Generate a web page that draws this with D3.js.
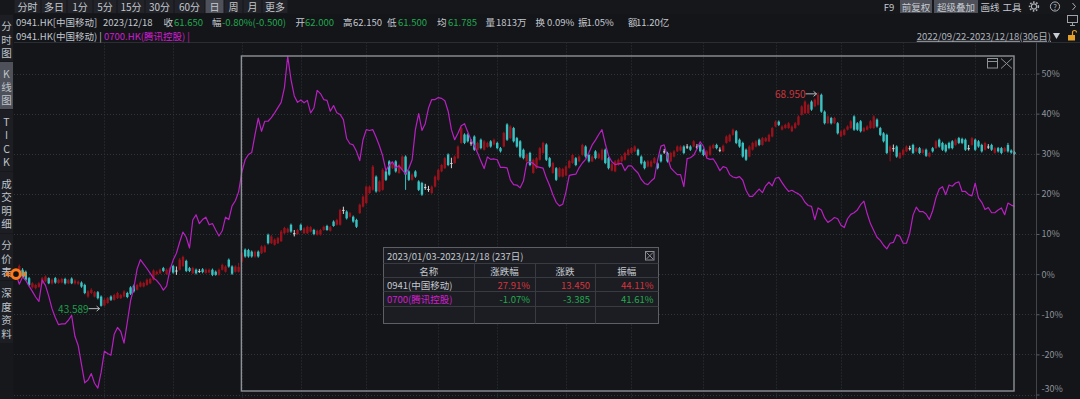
<!DOCTYPE html>
<html><head><meta charset="utf-8">
<script src="https://cdn.jsdelivr.net/npm/d3@7/dist/d3.min.js"></script>
<style>
html,body{margin:0;padding:0;background:#131519;overflow:hidden;}
svg{display:block;}
</style></head>
<body>
<svg id="chart" width="1080" height="399"></svg>
<script>
// ---------------- DATA ----------------
const periodTabs = ['分时','多日','1分','5分','15分','30分','60分','日','周','月','更多'];
const activePeriod = '日';
const toolTabs = ['F9','前复权','超级叠加','画线','工具'];
const activeTools = ['前复权','超级叠加'];
const sideTabs = [['分','时','图'],['K','线','图'],['T','I','C','K'],['成','交','明','细'],['分','价','表'],['深','度','资','料']];
const activeSide = 1;

const quoteItems = [
  ['0941.HK[中国移动]','n'],['2023/12/18','n'],['收','n'],['61.650','g'],['幅','n'],['-0.80%(-0.500)','g'],
  ['开','n'],['62.000','g'],['高','n'],['62.150','n'],['低','n'],['61.500','g'],['均','n'],['61.785','g'],
  ['量','n'],['1813万','n'],['换','n'],['0.09%','n'],['振','n'],['1.05%','n'],['额','n'],['11.20亿','n']
];
const seriesNames = ['0941.HK(中国移动)','0700.HK(腾讯控股)'];
const rangeText = '2022/09/22-2023/12/18(306日)';

const yTicks = [-30,-20,-10,0,10,20,30,40,50];
// bar index of first trading day of each month (Nov 2022 .. Dec 2023)
const monthStartBars = [27,48,69,87,107,129,147,168,188,210,232,252,271,293];
// selected interval (2023/01/03 - 2023/12/18)
const selStartBar = 69, selEndBar = 305;
const extremeLowText = '43.589', extremeHighText = '68.950';

// 0941.HK candles, % change vs first close
const open941 = [
-0.3,0.0,1.1,0.6,-1.0,-3.3,-3.5,-3.2,-2.3,-1.8,
-1.0,-2.3,-1.0,-2.2,-2.1,-1.2,-2.3,-1.1,-2.3,-2.4,
-2.1,-2.7,-5.6,-4.7,-5.6,-4.5,-5.6,-7.8,-7.2,-5.6,
-6.4,-6.0,-6.0,-5.6,-4.7,-3.3,-2.9,-3.9,-3.1,-3.1,
-2.7,-2.3,-1.4,0.0,0.2,1.5,0.0,0.6,2.0,0.9,
1.1,2.0,3.3,1.5,0.2,1.1,0.8,1.2,0.3,0.4,
1.1,0.6,-0.2,1.1,0.6,3.6,1.9,0.6,0.6,3.1,
6.1,6.0,5.6,4.4,5.6,5.2,5.5,9.8,7.7,7.3,
7.7,8.2,10.2,10.4,12.3,10.2,10.0,12.3,10.2,10.2,
10.6,11.0,9.8,9.8,11.0,12.0,10.8,13.1,12.3,12.3,
16.0,15.6,14.3,14.3,13.5,15.2,16.8,17.7,20.2,21.0,
24.3,20.6,21.0,25.6,28.1,26.4,28.1,25.2,26.0,29.3,
25.6,23.5,25.6,23.1,22.7,21.7,21.2,20.2,21.8,23.5,
25.6,26.4,29.8,27.7,27.7,28.9,32.7,34.8,34.8,32.8,
34.3,31.0,33.5,31.0,31.7,33.1,32.3,32.7,31.4,31.8,
37.3,33.9,36.4,33.9,33.1,31.0,28.1,30.2,25.2,26.4,
28.5,30.2,32.3,28.9,25.2,26.4,24.3,24.3,24.6,26.5,
27.7,28.9,28.1,29.7,31.8,29.7,28.1,30.6,28.9,28.5,
31.0,28.9,25.8,25.6,27.2,28.1,28.5,29.7,30.2,30.6,
31.0,29.3,28.0,26.8,26.8,27.7,27.6,29.7,30.6,30.2,
28.1,29.3,30.6,30.8,31.8,31.8,31.8,31.8,31.8,32.2,
31.0,29.3,29.7,31.4,32.2,31.0,30.6,32.7,33.1,34.7,
35.6,33.5,32.7,31.0,29.3,31.0,31.8,33.5,32.2,33.1,
33.1,34.3,36.8,38.0,36.0,36.4,36.4,35.6,36.4,37.2,
39.7,40.1,40.1,43.0,41.8,42.2,44.7,40.5,37.6,38.9,
37.6,37.6,34.3,34.7,36.0,36.4,39.3,37.6,38.1,35.6,
36.0,36.4,36.4,38.5,36.4,35.1,34.7,30.6,31.4,31.8,
28.9,29.7,30.6,31.4,32.2,30.6,31.4,30.2,31.0,29.3,
31.4,31.4,33.5,32.7,32.2,32.7,33.1,32.2,33.9,33.7,
33.5,31.4,32.2,33.5,33.1,32.2,31.0,31.8,32.2,30.2,
31.4,31.4,30.6,32.2,30.8,30.4];
const close941 = [
0.0,2.0,-0.6,-1.4,-2.7,-2.3,-2.7,-2.3,-1.0,-0.6,
-2.3,-1.4,-2.1,-1.4,-1.2,-2.3,-1.5,-2.3,-1.6,-1.9,
-3.1,-4.7,-4.3,-3.9,-4.5,-6.0,-7.9,-6.4,-6.0,-6.4,
-5.2,-4.7,-5.2,-4.3,-5.7,-4.9,-4.3,-2.7,-2.1,-2.2,
-1.4,-1.2,0.9,0.6,1.1,0.8,1.1,1.5,0.4,0.9,
3.6,4.3,0.8,0.8,1.5,0.2,0.8,0.5,1.1,1.1,
-0.2,-0.2,1.1,2.3,1.9,1.9,0.1,1.9,1.8,5.2,
4.4,4.4,4.4,5.6,4.4,6.9,6.9,7.7,9.4,8.6,
9.0,10.6,11.5,11.3,10.6,10.2,11.0,11.0,11.4,11.8,
11.7,10.0,10.8,11.0,11.8,11.0,11.7,12.0,13.5,16.0,
16.0,13.9,15.2,13.1,11.8,17.3,19.3,21.8,21.8,26.8,
20.6,23.1,26.0,23.5,24.8,27.7,25.6,27.2,29.3,24.8,
23.5,24.8,24.3,21.0,19.8,21.7,21.2,21.8,24.3,26.0,
27.2,28.9,27.2,27.7,29.3,31.8,36.4,32.7,33.1,32.8,
31.0,32.7,31.4,33.1,32.7,31.8,33.5,31.4,30.6,35.2,
33.5,36.8,33.1,31.8,29.3,28.9,29.8,27.2,28.5,28.9,
31.4,32.7,28.5,26.8,27.7,23.5,26.4,26.2,26.8,28.2,
29.7,27.2,29.3,32.2,29.3,28.1,29.3,28.9,30.0,31.0,
27.7,26.4,27.4,28.1,28.5,29.3,30.2,31.0,31.4,31.8,
29.7,27.6,26.4,28.1,28.1,28.9,26.4,28.1,30.6,28.1,
30.2,30.6,31.8,31.8,30.2,31.8,31.0,33.1,31.8,30.6,
29.7,30.6,31.8,32.2,31.4,31.0,32.0,34.3,34.7,36.0,
32.7,31.8,29.3,28.5,31.8,32.7,33.1,32.2,33.9,33.9,
34.7,36.4,38.0,37.2,36.8,37.2,37.6,36.8,37.6,39.3,
41.8,43.0,42.2,41.0,43.5,44.7,40.5,37.6,39.3,37.6,
38.9,35.1,35.6,36.0,36.8,38.1,36.0,36.0,35.6,36.4,
36.8,38.1,39.3,36.8,34.7,33.1,30.2,31.8,31.4,29.3,
30.2,31.0,31.8,31.4,30.2,31.4,30.2,31.0,29.5,30.2,
30.6,33.1,31.8,31.0,30.6,31.4,31.4,33.5,32.7,32.7,
31.0,31.4,33.9,31.0,31.8,30.6,32.7,31.8,31.0,31.4,
30.6,30.2,31.4,30.6,30.3,29.9];
const high941 = [
0.5,2.4,1.5,0.9,-0.7,-2.0,-2.4,-2.0,-0.7,-0.3,
-0.8,-1.1,-0.7,-1.1,-0.9,-0.9,-1.2,-0.8,-1.3,-1.6,
-1.8,-2.4,-4.0,-3.5,-4.2,-4.2,-5.3,-6.0,-5.7,-5.3,
-4.9,-4.4,-4.9,-4.0,-4.4,-3.0,-2.6,-2.4,-1.8,-1.9,
-1.1,-0.9,1.2,0.9,1.4,1.8,1.4,1.8,2.3,1.9,
4.0,4.6,3.6,1.8,1.8,1.4,1.3,1.5,1.4,1.4,
1.4,0.9,1.4,2.6,2.2,3.9,2.2,2.2,2.8,5.6,
6.4,6.3,5.9,5.9,5.9,7.2,7.3,10.1,9.8,8.9,
9.3,11.0,11.8,11.6,12.6,11.0,11.3,12.6,11.7,12.1,
12.0,11.3,11.1,11.3,12.1,12.3,12.0,13.4,13.8,16.3,
16.8,15.9,15.5,14.6,13.8,17.6,19.6,22.1,22.1,27.2,
24.6,23.4,26.4,25.9,28.4,28.0,28.4,27.5,29.6,29.6,
25.9,25.1,25.9,23.4,23.0,22.5,22.0,22.1,24.6,26.3,
27.5,29.2,30.1,29.0,29.6,32.1,36.7,35.1,35.1,33.6,
34.6,33.0,33.8,33.4,33.0,33.4,33.8,33.0,31.7,35.5,
37.6,37.1,36.7,34.2,33.4,31.3,30.1,30.5,28.8,29.2,
31.7,33.0,32.6,29.2,28.0,26.7,26.7,26.5,27.1,28.5,
30.0,29.2,29.6,32.5,32.1,30.0,29.6,30.9,30.3,31.3,
31.3,29.2,27.7,28.4,28.8,29.6,30.5,31.3,31.7,32.1,
31.3,29.6,28.3,28.4,28.4,29.2,27.9,30.0,31.2,30.5,
30.5,30.9,32.1,32.1,32.1,32.4,32.1,33.4,32.4,32.5,
31.3,30.9,32.1,32.5,32.5,31.6,32.3,34.6,35.0,36.3,
35.9,33.8,33.0,31.3,32.1,33.0,33.4,33.8,34.2,34.2,
35.0,36.7,38.3,38.3,37.1,37.5,37.9,37.1,37.9,39.6,
42.1,43.3,42.5,43.3,43.8,45.3,45.0,40.8,39.6,39.2,
39.2,37.9,35.9,36.3,37.1,38.4,39.6,37.9,38.4,36.7,
37.1,38.4,39.6,38.8,36.7,35.4,35.0,32.1,32.3,32.1,
30.5,31.3,32.1,32.0,32.5,31.7,31.7,31.3,31.3,30.5,
31.7,33.4,33.8,33.0,32.5,33.0,33.4,33.8,34.2,34.0,
33.8,32.2,34.2,33.8,33.4,32.5,33.0,32.4,32.5,31.7,
31.7,31.7,31.7,32.7,31.1,30.7];
const low941 = [
-0.6,-0.2,-0.8,-1.7,-3.0,-3.6,-3.8,-3.4,-2.5,-2.0,
-2.5,-2.6,-2.4,-2.4,-2.3,-2.6,-2.5,-2.5,-2.6,-2.7,
-3.4,-5.0,-5.9,-5.0,-5.8,-6.3,-8.1,-8.0,-7.4,-6.7,
-6.6,-6.2,-6.2,-5.8,-6.0,-5.2,-4.6,-4.1,-3.3,-3.3,
-2.9,-2.5,-1.6,-0.3,0.0,0.5,-0.2,0.4,0.1,-0.2,
0.9,1.8,0.5,0.5,0.0,-0.1,0.3,0.2,0.1,0.2,
-0.5,-0.4,-0.4,0.9,0.4,1.6,-0.2,0.4,0.4,2.9,
4.1,4.1,4.1,4.1,4.1,5.0,5.3,7.4,7.5,7.1,
7.5,8.0,10.0,10.2,10.3,9.4,9.8,10.8,10.0,10.0,
10.4,9.7,9.6,9.6,10.8,10.8,10.6,11.8,12.1,12.1,
15.0,13.6,14.1,12.8,11.5,15.0,16.6,17.5,20.0,20.8,
20.3,20.4,20.8,23.2,24.5,26.2,25.3,25.0,25.8,21.0,
23.2,23.3,24.0,20.7,19.5,21.0,20.5,20.0,21.6,23.3,
25.4,26.2,26.9,26.4,27.5,28.7,32.5,32.4,32.8,32.0,
30.7,30.8,31.1,30.8,31.5,31.5,32.1,31.1,30.3,31.6,
33.2,33.7,32.8,31.5,29.0,28.6,27.9,26.9,25.0,26.2,
28.3,30.0,28.2,26.5,25.0,23.2,24.1,24.1,24.4,26.3,
27.5,26.9,27.9,29.5,29.0,27.8,27.9,28.6,28.7,28.3,
27.4,26.1,25.6,25.4,27.0,27.9,28.3,29.5,30.0,30.4,
29.4,27.3,26.1,26.6,26.6,27.5,26.1,27.8,30.0,27.8,
27.9,29.1,30.4,30.6,29.9,31.2,30.7,31.6,31.2,30.3,
29.4,29.1,29.5,31.2,31.1,30.4,30.4,32.5,32.9,34.5,
32.4,31.5,29.0,28.2,29.1,30.8,31.6,31.9,32.0,32.9,
32.9,34.1,36.6,36.9,35.8,36.2,36.2,35.4,36.2,37.0,
39.5,39.9,39.9,40.7,41.6,42.0,40.2,37.3,37.4,37.3,
37.4,34.8,34.1,34.5,35.8,36.2,35.7,35.7,35.3,35.4,
35.8,36.2,36.2,36.5,34.4,32.8,29.9,28.1,30.5,29.0,
28.7,29.5,30.4,30.8,29.9,30.4,29.9,30.0,29.2,29.1,
30.3,31.2,31.5,30.7,30.3,31.1,31.1,32.0,32.4,32.4,
30.7,30.8,32.0,30.7,31.5,30.3,30.8,31.2,30.7,30.0,
30.3,29.9,30.4,30.3,30.0,29.7];
// 0700.HK, % change vs first close
const pct700 = [
0,-2.5,-0.7,-1.6,-3.0,-4.3,-5.7,-6.8,-1.5,-2.8,
-5.5,-8.6,-10.8,-12.6,-12.4,-12.4,-11.5,-10.3,-15.5,-17.8,
-22.5,-27.1,-26.4,-24.8,-27.2,-28.4,-24.5,-19.2,-19.8,-20.2,
-15.0,-13.3,-14.3,-17.2,-12.0,-6.6,-3.4,1.3,3.6,2.5,
1.4,0.2,-1.0,-1.6,-2.6,-4.0,-3.0,1.0,3.5,5.2,
8.0,10.5,9.2,6.5,13.5,14.8,12.6,13.6,14.2,12.3,
12.6,11.0,9.5,10.8,14.2,13.6,17.0,18.3,20.5,25.5,
28.5,29.8,30.3,34.7,38.9,35.6,38.1,38.1,39.0,40.2,
41.5,42.8,46.5,54.3,48.5,44.4,42.8,43.4,42.7,43.3,
40.2,41.4,45.8,45.0,43.5,43.3,40.6,42.0,40.2,39.8,
38.5,33.8,32.5,32.2,30.6,28.3,33.5,36.0,35.8,36.0,
34.1,32.0,29.5,25.8,27.2,28.0,26.5,27.0,26.0,25.0,
26.4,28.5,36.0,40.0,35.8,37.5,41.4,43.5,43.5,44.0,
43.8,43.2,40.6,36.0,33.5,35.1,37.0,37.5,35.4,33.4,
32.0,30.2,28.2,26.3,29.2,28.6,28.7,28.5,26.6,26.6,
26.5,23.5,22.3,22.2,21.5,23.2,27.7,28.0,27.6,26.8,
26.6,26.4,24.0,22.1,19.8,17.9,17.0,17.4,20.5,24.6,
24.8,24.9,26.5,27.7,28.6,30.3,32.2,33.4,34.8,36.0,
32.5,29.5,28.0,27.3,27.5,27.6,25.8,27.0,27.0,26.0,
25.2,23.6,22.6,22.3,23.2,23.9,28.5,31.9,32.2,29.2,
26.5,25.6,24.8,24.8,21.8,28.8,29.0,29.6,31.2,33.0,
31.8,28.9,28.6,28.7,27.4,25.8,26.8,26.5,24.8,24.2,
24.0,24.3,23.4,20.9,19.4,19.4,20.3,21.2,20.3,22.0,
22.9,22.0,23.9,24.1,22.8,21.6,20.6,20.9,20.4,20.0,
19.3,17.9,17.1,16.9,13.6,16.5,16.0,14.0,12.9,13.4,
14.1,13.8,12.2,11.6,13.8,14.9,15.3,16.0,17.3,18.2,
15.1,12.6,10.9,9.2,8.4,7.2,6.3,7.7,7.9,9.8,
9.4,7.7,7.7,10.2,14.7,16.7,15.6,15.6,15.0,13.6,
15.8,19.0,21.2,21.8,19.8,22.2,21.9,22.7,23.0,20.6,
20.6,19.8,19.5,22.7,19.0,17.9,16.1,16.6,15.3,15.3,
16.0,16.5,14.8,17.7,17.2,16.9];

const tableTitle = '2023/01/03-2023/12/18 (237日)';
const tableHeaders = ['名称','涨跌幅','涨跌','振幅'];
const tableRows = [
  ['0941(中国移动)','27.91%','13.450','44.11%'],
  ['0700(腾讯控股)','-1.07%','-3.385','41.61%']
];

// ---------------- DRAWING ----------------
const FONT = '"Noto Sans CJK SC","Noto Sans",sans-serif';
const C = {
  bg:'#131519', grid:'#30343b', txt:'#c4c8cf', dim:'#8e929a', green:'#22a94f', red:'#d7333d',
  up:'#96121c', down:'#3ac2c2', flat:'#d8d8d8', mag:'#b91fc2', magTxt:'#d21ed2', box:'#8e9196',
  tab:'#212328', tabOn:'#4e5159', side:'#1c1e23'
};
const TF = 10;   // tab font size
const HF = 9.5;  // info rows font size
const svg = d3.select('#chart').attr('font-family', FONT);
svg.append('rect').attr('width',1080).attr('height',399).attr('fill',C.bg);

const x = d3.scaleLinear().domain([0, close941.length-1]).range([16, 1014.5]);
const y = d3.scaleLinear().domain([-30, 50]).range([394.5, 73.5]);
const PL = 14, PR = 1036.5, PT = 42.5, PB = 399;

// grid
const g = svg.append('g');
g.selectAll('line.h').data(yTicks).join('line')
  .attr('x1',PL).attr('x2',PR).attr('y1',d=>Math.round(y(d))+0.5).attr('y2',d=>Math.round(y(d))+0.5)
  .attr('stroke',C.grid).attr('stroke-dasharray','1,2');
g.selectAll('line.v').data(monthStartBars).join('line')
  .attr('x1',d=>Math.round(x(d))+0.5).attr('x2',d=>Math.round(x(d))+0.5).attr('y1',PT).attr('y2',PB)
  .attr('stroke',C.grid).attr('stroke-dasharray','1,2');
g.append('line').attr('x1',PL).attr('x2',1080).attr('y1',PT).attr('y2',PT).attr('stroke','#2a2d33');
g.append('line').attr('x1',PR).attr('x2',PR).attr('y1',PT).attr('y2',PB).attr('stroke','#40444b');

// candles
const idx = d3.range(close941.length);
const col = i => close941[i] > open941[i] ? C.up : (close941[i] < open941[i] ? C.down : C.flat);
const cg = svg.append('g');
cg.selectAll('line').data(idx).join('line')
  .attr('x1',i=>x(i)).attr('x2',i=>x(i)).attr('y1',i=>y(high941[i])).attr('y2',i=>y(low941[i]))
  .attr('stroke',col).attr('stroke-width',1);
cg.selectAll('rect').data(idx).join('rect')
  .attr('x',i=>x(i)-1.2).attr('width',2.4)
  .attr('y',i=>y(Math.max(open941[i],close941[i])))
  .attr('height',i=>Math.max(1, Math.abs(y(open941[i])-y(close941[i]))))
  .attr('fill',col);

// 0700 line
svg.append('path').datum(pct700)
  .attr('d', d3.line().x((d,i)=>x(i)).y(d=>y(d)))
  .attr('fill','none').attr('stroke',C.mag).attr('stroke-width',1.2).attr('stroke-linejoin','round');

// selection box
const bx0 = x(selStartBar)-0.5, bx1 = x(selEndBar)-0.5;
svg.append('rect').attr('x',bx0).attr('y',56).attr('width',bx1-bx0).attr('height',335)
  .attr('fill','none').attr('stroke',C.box).attr('stroke-width',1.4);
const ic = svg.append('g').attr('stroke',C.box).attr('fill','none').attr('stroke-width',1);
ic.append('rect').attr('x',bx1-26.5).attr('y',58.5).attr('width',10).attr('height',9.5);
ic.append('line').attr('x1',bx1-26.5).attr('x2',bx1-16.5).attr('y1',61.5).attr('y2',61.5);
ic.append('path').attr('d',`M${bx1-13},58.5L${bx1-2},68.5M${bx1-2},58.5L${bx1-13},68.5`);

// extreme labels
const iLo = d3.minIndex(low941), iHi = d3.maxIndex(high941);
function extreme(i, v, txt, color, dy){
  const xe = x(i)-1.5, yy = y(v)+dy;
  svg.append('path').attr('d',`M${xe-11},${yy}L${xe},${yy}M${xe-3},${yy-2.5}L${xe},${yy}L${xe-3},${yy+2.5}`)
    .attr('stroke','#b5b8bd').attr('fill','none').attr('stroke-width',1);
  svg.append('text').attr('x',xe-11).attr('y',yy).attr('text-anchor','end').attr('dominant-baseline','central')
    .attr('font-size',10).attr('fill',color).text(txt);
}
extreme(iLo, low941[iLo], extremeLowText, '#1f9d49', 2);
extreme(iHi, high941[iHi], extremeHighText, '#c8353d', 1.5);

// right axis
const ax = svg.append('g').attr('transform',`translate(${PR},0)`)
  .call(d3.axisRight(y).tickValues(yTicks).tickFormat(d=>d+'%').tickSize(3).tickPadding(2));
ax.select('.domain').remove();
ax.selectAll('.tick line').attr('stroke','#5a5e66');
ax.selectAll('.tick text').attr('fill',C.dim).attr('font-size',9).attr('font-family',FONT)
  .attr('dy', d => d === yTicks[0] ? '-0.05em' : '0.32em');
ax.selectAll('.tick').filter(d=>d===yTicks[0]).select('text').attr('y',-3);

// table
const T = {x0:383.5, x1:658.5, y0:247.5, y1:323.5, cols:[383.5,474,535,595,658.5], rows:[263,277,291,306]};
const tg = svg.append('g');
tg.append('rect').attr('x',T.x0).attr('y',T.y0).attr('width',T.x1-T.x0).attr('height',T.y1-T.y0)
  .attr('fill','#1b1d22').attr('stroke','#5c5f65').attr('stroke-width',1);
T.rows.forEach(r=>tg.append('line').attr('x1',T.x0).attr('x2',T.x1).attr('y1',r+0.5).attr('y2',r+0.5).attr('stroke','#383b41'));
T.cols.slice(1,-1).forEach(c=>tg.append('line').attr('x1',c+0.5).attr('x2',c+0.5).attr('y1',263).attr('y2',T.y1).attr('stroke','#383b41'));
tg.append('text').attr('x',387).attr('y',255.5).attr('dominant-baseline','central').attr('font-size',9.5).attr('fill',C.txt).text(tableTitle);
const cb = tg.append('g').attr('stroke','#8a8d93').attr('fill','none');
cb.append('rect').attr('x',645.5).attr('y',251.5).attr('width',8.5).attr('height',8.5);
cb.append('path').attr('d','M646.5,252.5L653,259M653,252.5L646.5,259');
tableHeaders.forEach((h,i)=>tg.append('text').attr('x',(T.cols[i]+T.cols[i+1])/2).attr('y',270.5)
  .attr('text-anchor','middle').attr('dominant-baseline','central').attr('font-size',9.5).attr('fill',C.txt).text(h));
tableRows.forEach((row,ri)=>{
  const yy = [284.5,299][ri];
  row.forEach((v,ci)=>{
    let fill;
    if (ci===0) fill = ri===0 ? C.txt : C.magTxt;
    else fill = v.startsWith('-') ? C.green : (ri===0 ? C.red : C.green);
    const t = tg.append('text').attr('y',yy).attr('dominant-baseline','central').attr('font-size',9.5).attr('fill',fill).text(v);
    if (ci===0) t.attr('x',387); else t.attr('x',T.cols[ci+1]-5).attr('text-anchor','end');
  });
});

// ---------------- HEADER ----------------
const hd = svg.append('g');
hd.append('rect').attr('x',0).attr('y',0).attr('width',1080).attr('height',14).attr('fill','#15171b');
const tabEdges = [14,41,67,93,117,145,174,205,224,243,262,288];
periodTabs.forEach((t,i)=>{
  const a = tabEdges[i]+0.5, b = tabEdges[i+1]-0.5;
  hd.append('rect').attr('x',a).attr('y',0).attr('width',b-a).attr('height',13)
    .attr('fill', t===activePeriod ? C.tabOn : C.tab);
  hd.append('text').attr('x',(a+b)/2).attr('y',6.8).attr('text-anchor','middle').attr('dominant-baseline','central')
    .attr('font-size',TF).attr('fill',C.txt).text(t);
});
const toolPos = [[880,898],[900,932],[934,978],[981,999],[1003,1021]];
toolTabs.forEach((t,i)=>{
  const [a,b] = toolPos[i];
  if (activeTools.includes(t)) hd.append('rect').attr('x',a).attr('y',0).attr('width',b-a).attr('height',13).attr('fill',C.tabOn);
  hd.append('text').attr('x',(a+b)/2).attr('y',6.8).attr('text-anchor','middle').attr('dominant-baseline','central')
    .attr('font-size',9.5).attr('fill',C.txt).text(t);
});
// gear, help, arrow
hd.append('circle').attr('cx',1034).attr('cy',6.5).attr('r',2.6).attr('fill','none').attr('stroke','#aeb2b9').attr('stroke-width',1.1);
hd.append('circle').attr('cx',1034).attr('cy',6.5).attr('r',4.4).attr('fill','none').attr('stroke','#aeb2b9').attr('stroke-width',1.6).attr('stroke-dasharray','1.6,1.6');
hd.append('circle').attr('cx',1055).attr('cy',6.5).attr('r',4.6).attr('fill','none').attr('stroke','#aeb2b9').attr('stroke-width',1);
hd.append('text').attr('x',1055).attr('y',6.8).attr('text-anchor','middle').attr('dominant-baseline','central').attr('font-size',7.5).attr('fill','#aeb2b9').text('?');
hd.append('path').attr('d','M1072.5,3L1075.5,6.5L1072.5,10').attr('fill','none').attr('stroke','#aeb2b9').attr('stroke-width',1);

// quote row
const quoteX = [16,103,163.5,174,212,222,295.5,305,343,353,387,398,437,448,485.5,496,535.5,547,578,586.5,628,636];
quoteItems.forEach(([t,k],i)=>{
  hd.append('text').attr('x',quoteX[i]).attr('y',21.8).attr('dominant-baseline','central').attr('font-size',HF)
    .attr('fill', k==='g' ? C.green : C.txt).text(t);
});
// monitor icon
hd.append('rect').attr('x',1067.5).attr('y',15.5).attr('width',10).attr('height',7).attr('fill','none').attr('stroke','#9ea2a9');
hd.append('path').attr('d','M1070,25.5L1075,25.5M1072.5,22.5L1072.5,25.5').attr('stroke','#9ea2a9');

// series row (one text, tspans flow without overlap)
const sr = hd.append('text').attr('x',16).attr('y',35.8).attr('dominant-baseline','central').attr('font-size',HF);
sr.append('tspan').attr('fill',C.txt).text(seriesNames[0] + ' | ');
sr.append('tspan').attr('fill',C.magTxt).text(seriesNames[1] + ' |');
hd.append('text').attr('x',1051).attr('y',35.8).attr('text-anchor','end').attr('dominant-baseline','central').attr('font-size',9.5)
  .attr('fill','#b0b4bb').attr('text-decoration','underline').text(rangeText);
hd.append('path').attr('d','M1053,33L1060,33L1056.5,39Z').attr('fill','#c8ccd2');
hd.append('rect').attr('x',1068).attr('y',35).attr('width',7).attr('height',5.5).attr('fill','#e3a12a');
hd.append('path').attr('d','M1072.5,35L1072.5,32.5A2,2 0 0 1 1076.5,32.5').attr('fill','none').attr('stroke','#e3a12a').attr('stroke-width',1.2);

// ---------------- SIDEBAR ----------------
const sb = svg.append('g');
sb.append('rect').attr('x',0).attr('y',14).attr('width',13.5).attr('height',385).attr('fill','#16181c');
const sideBlocks = [[15,61],[62,109],[110,171],[172,233],[234,280],[281,343]];
sideTabs.forEach((chars,i)=>{
  const [a,b] = sideBlocks[i];
  sb.append('rect').attr('x',0).attr('y',a).attr('width',13).attr('height',b-a)
    .attr('fill', i===activeSide ? C.tabOn : C.side);
  const cy = (a+b)/2 + 1;
  chars.forEach((ch,j)=>{
    sb.append('text').attr('x',6.5).attr('y', cy + (j-(chars.length-1)/2)*13.4)
      .attr('text-anchor','middle').attr('dominant-baseline','central').attr('font-size',10.5).attr('fill','#bfc3ca').text(ch);
  });
});

// orange base marker (drawn over the sidebar edge like the reference)
const mx = x(0), my = y(0);
svg.append('path').attr('d',`M${mx-11},${my}L${mx-7},${my-3.5}L${mx-7},${my+3.5}Z M${mx+11},${my}L${mx+7},${my-3.5}L${mx+7},${my+3.5}Z`).attr('fill','#ff7a1c');
svg.append('circle').attr('cx',mx).attr('cy',my).attr('r',4.3).attr('fill','#111').attr('stroke','#ff7a1c').attr('stroke-width',3);
</script>
</body></html>
